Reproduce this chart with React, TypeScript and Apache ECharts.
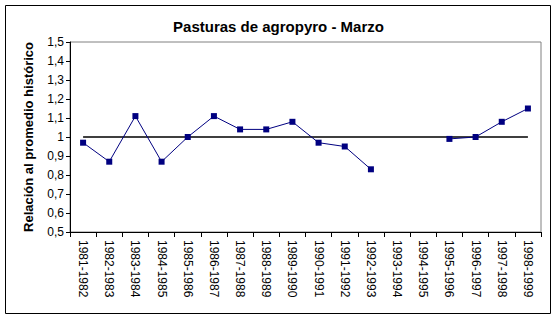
import React, { useEffect, useRef } from "react";
import * as echarts from "echarts";

const categories = [
  "1981-1982", "1982-1983", "1983-1984", "1984-1985", "1985-1986", "1986-1987",
  "1987-1988", "1988-1989", "1989-1990", "1990-1991", "1991-1992", "1992-1993",
  "1993-1994", "1994-1995", "1995-1996", "1996-1997", "1997-1998", "1998-1999",
];
const ratioValues: (number | null)[] = [
  0.97, 0.87, 1.11, 0.87, 1.0, 1.11, 1.04, 1.04, 1.08, 0.97, 0.95, 0.83,
  null, null, 0.99, 1.0, 1.08, 1.15,
];
const referenceValues = categories.map(() => 1);
const chartTitle = "Pasturas de agropyro - Marzo";
const yAxisName = "Relación al promedio histórico";

const FONT = "'Liberation Sans', Arial, sans-serif";

export default function App() {
  const ref = useRef<HTMLDivElement>(null);
  useEffect(() => {
    if (!ref.current) return;
    const chart = echarts.init(ref.current, undefined, { renderer: "svg" });
    chart.setOption({
      animation: false,
      backgroundColor: "#ffffff",
      title: {
        text: chartTitle,
        left: "center",
        top: 14,
        textStyle: { fontFamily: FONT, fontSize: 15, fontWeight: "bold", color: "#000" },
      },
      graphic: [
        {
          type: "rect",
          shape: { x: 5.5, y: 5.5, width: 545, height: 308 },
          style: { fill: "none", stroke: "#000", lineWidth: 1 },
          silent: true,
        },
      ],
      grid: {
        left: 70,
        top: 42,
        width: 471,
        height: 190,
        show: true,
        borderColor: "#808080",
        borderWidth: 1,
        backgroundColor: "transparent",
      },
      xAxis: {
        type: "category",
        data: categories,
        boundaryGap: true,
        axisLine: { lineStyle: { color: "#000", width: 1 } },
        axisTick: { show: true, interval: 0, length: 5, lineStyle: { color: "#000" } },
        axisLabel: {
          interval: 0,
          rotate: -90,
          margin: 8,
          fontFamily: FONT,
          fontSize: 12,
          color: "#000",
        },
        splitLine: { show: false },
      },
      yAxis: {
        type: "value",
        min: 0.5,
        max: 1.5,
        interval: 0.1,
        name: yAxisName,
        nameLocation: "middle",
        nameGap: 35,
        nameTextStyle: { fontFamily: FONT, fontSize: 13, fontWeight: "bold", color: "#000" },
        axisLine: { show: true, lineStyle: { color: "#000", width: 1 } },
        axisTick: { show: true, length: 4, lineStyle: { color: "#000" } },
        axisLabel: {
          margin: 6,
          fontFamily: FONT,
          fontSize: 12,
          color: "#000",
          formatter: (v: number) => {
            const r = Math.round(v * 10) / 10;
            return Number.isInteger(r) ? String(r) : r.toFixed(1).replace(".", ",");
          },
        },
        splitLine: { show: false },
      },
      series: [
        {
          type: "line",
          data: referenceValues,
          symbol: "none",
          lineStyle: { color: "#000", width: 1.5 },
          z: 1,
        },
        {
          type: "line",
          data: ratioValues,
          connectNulls: false,
          symbol: "rect",
          symbolSize: 6,
          itemStyle: { color: "#000080" },
          lineStyle: { color: "#000080", width: 1 },
          z: 2,
        },
      ],
    });
    return () => chart.dispose();
  }, []);
  return (
    <div
      ref={ref}
      style={{ position: "fixed", left: 0, top: 0, width: 557, height: 319, background: "#fff" }}
    />
  );
}
